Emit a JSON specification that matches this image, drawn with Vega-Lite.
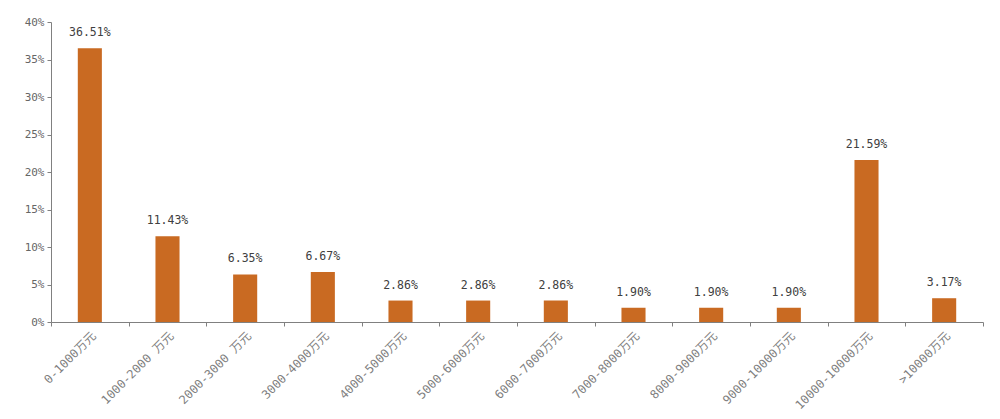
{
  "$schema": "https://vega.github.io/schema/vega-lite/v6.json",
  "autosize": "none",
  "width": 932,
  "height": 300,
  "padding": {"left": 51, "top": 22, "right": 17, "bottom": 97},
  "background": "white",
  "config": {"view": {"stroke": null}},
  "data": {
    "values": [
      {"range": "0-1000万元", "share": 0.3651, "label": "36.51%"},
      {"range": "1000-2000 万元", "share": 0.1143, "label": "11.43%"},
      {"range": "2000-3000 万元", "share": 0.0635, "label": "6.35%"},
      {"range": "3000-4000万元", "share": 0.0667, "label": "6.67%"},
      {"range": "4000-5000万元", "share": 0.0286, "label": "2.86%"},
      {"range": "5000-6000万元", "share": 0.0286, "label": "2.86%"},
      {"range": "6000-7000万元", "share": 0.0286, "label": "2.86%"},
      {"range": "7000-8000万元", "share": 0.019, "label": "1.90%"},
      {"range": "8000-9000万元", "share": 0.019, "label": "1.90%"},
      {"range": "9000-10000万元", "share": 0.019, "label": "1.90%"},
      {"range": "10000-10000万元", "share": 0.2159, "label": "21.59%"},
      {"range": ">10000万元", "share": 0.0317, "label": "3.17%"}
    ]
  },
  "encoding": {
    "x": {
      "field": "range",
      "type": "nominal",
      "sort": null,
      "title": null,
      "scale": {"paddingInner": 0, "paddingOuter": 0},
      "axis": {
        "labelAngle": -45,
        "labelFont": "'DejaVu Sans Mono', 'Noto Sans CJK SC'",
        "labelFontSize": 12,
        "labelColor": "#7f7f7f",
        "labelPadding": 4,
        "tickBand": "extent",
        "tickSize": 4,
        "tickColor": "#808080",
        "domainColor": "#808080",
        "grid": false
      }
    },
    "y": {
      "field": "share",
      "type": "quantitative",
      "title": null,
      "scale": {"domain": [0, 0.4], "nice": false},
      "axis": {
        "values": [0, 0.05, 0.1, 0.15, 0.2, 0.25, 0.3, 0.35, 0.4],
        "format": ".0%",
        "labelFont": "'DejaVu Sans Mono'",
        "labelFontSize": 11,
        "labelColor": "#666666",
        "tickSize": 4,
        "tickColor": "#808080",
        "domainColor": "#808080",
        "grid": false,
        "labelPadding": 3
      }
    }
  },
  "layer": [
    {
      "mark": {"type": "bar", "color": "#C96A22", "width": {"band": 0.31}}
    },
    {
      "mark": {
        "type": "text",
        "dy": -10,
        "baseline": "bottom",
        "font": "'DejaVu Sans Mono'",
        "fontSize": 11.5,
        "color": "#404040"
      },
      "encoding": {"text": {"field": "label"}}
    }
  ]
}
